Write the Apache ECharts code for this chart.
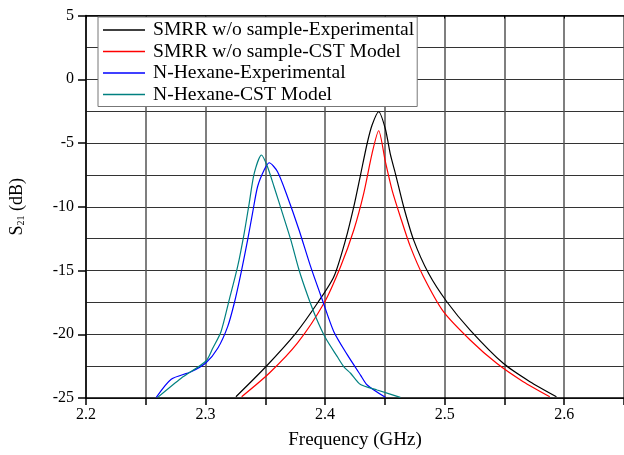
<!DOCTYPE html>
<html>
<head>
<meta charset="utf-8">
<script src="https://cdn.jsdelivr.net/npm/echarts@6/dist/echarts.min.js"></script>
<style>html,body{margin:0;padding:0;background:#fff}#c{width:624px;height:455px}</style>
</head>
<body>
<div id="c"></div>
<script>
// Series names
var seriesNames = ['SMRR w/o sample-Experimental', 'SMRR w/o sample-CST Model', 'N-Hexane-Experimental', 'N-Hexane-CST Model'];

// SMRR w/o sample - Experimental
var smrrExpFreq = [2.3254, 2.3504, 2.3754, 2.3935, 2.4073, 2.4171, 2.4240, 2.4296, 2.4352, 2.4393, 2.4448, 2.4504, 2.4546, 2.4588, 2.4657, 2.4740, 2.4865, 2.5018, 2.5213, 2.5490, 2.5713, 2.5935];
var smrrExpVal  = [-24.9, -22.55, -19.93, -17.57, -15.49, -12.6, -9.99, -7.51, -5.02, -3.59, -2.55, -3.9, -5.9, -7.4, -10.0, -12.6, -15.22, -17.45, -19.67, -22.28, -23.72, -24.9];

// SMRR w/o sample - CST Model
var smrrCstFreq = [2.3302, 2.3532, 2.3768, 2.3990, 2.4129, 2.4240, 2.4323, 2.4393, 2.4448, 2.4504, 2.4560, 2.4629, 2.4713, 2.4823, 2.4990, 2.5213, 2.5435, 2.5657, 2.5879];
var smrrCstVal  = [-24.9, -23.06, -20.7, -17.57, -14.7, -11.82, -8.95, -5.81, -4.04, -6.47, -8.69, -10.78, -13.13, -15.49, -18.23, -20.45, -22.28, -23.72, -24.9];

// N-Hexane - Experimental
var hexExpFreq = [2.2588, 2.2713, 2.2879, 2.3004, 2.3102, 2.3185, 2.3240, 2.3296, 2.3352, 2.3393, 2.3435, 2.3490, 2.3532, 2.3602, 2.3685, 2.3782, 2.3879, 2.3977, 2.4073, 2.4185, 2.4296, 2.4352, 2.4504];
var hexExpVal  = [-24.95, -23.53, -22.94, -22.23, -21.1, -19.4, -17.57, -15.22, -12.6, -10.5, -8.43, -7.12, -6.55, -7.25, -9.21, -11.82, -14.7, -17.31, -19.8, -21.6, -23.2, -23.98, -24.95];

// N-Hexane - CST Model
var hexCstFreq = [2.2600, 2.2796, 2.3004, 2.3060, 2.3129, 2.3198, 2.3268, 2.3323, 2.3365, 2.3407, 2.3468, 2.3518, 2.3573, 2.3643, 2.3713, 2.3782, 2.3852, 2.3921, 2.4004, 2.4102, 2.4157, 2.4213, 2.4296, 2.4435, 2.4629];
var hexCstVal  = [-24.95, -23.45, -22.1, -21.1, -19.8, -17.3, -14.7, -12.08, -9.73, -7.38, -5.94, -6.86, -8.43, -10.5, -12.6, -14.96, -16.92, -18.62, -20.3, -21.76, -22.55, -23.06, -23.95, -24.37, -24.95];

var seriesColors = ['#000000', '#ff0000', '#0000ff', '#008080'];

function zip(a, b) { return a.map(function (v, i) { return [v, b[i]]; }); }
var allData = [zip(smrrExpFreq, smrrExpVal), zip(smrrCstFreq, smrrCstVal), zip(hexExpFreq, hexExpVal), zip(hexCstFreq, hexCstVal)];

var FONT = 'Liberation Serif';
var chart = echarts.init(document.getElementById('c'), null, { renderer: 'canvas' });
chart.setOption({
  animation: false,
  backgroundColor: '#ffffff',
  grid: { left: 85, top: 15.5, width: 540, height: 382.5, containLabel: false },
  legend: {
    orient: 'vertical', left: 98, top: 17,
    padding: [3, 3, 2, 5], itemWidth: 42, itemHeight: 1.3, itemGap: 1.5, icon: 'rect',
    backgroundColor: '#ffffff', borderColor: '#777777', borderWidth: 1,
    textStyle: { fontFamily: FONT, fontSize: 19.6, color: '#000', padding: [0, 0, 0, 3] },
    data: seriesNames
  },
  xAxis: [{
    type: 'value', position: 'bottom', min: 2.2, max: 2.65, interval: 0.1,
    name: 'Frequency (GHz)', nameLocation: 'middle', nameGap: 33,
    nameTextStyle: { fontFamily: FONT, fontSize: 19, color: '#000' },
    axisLine: { show: true, onZero: false, lineStyle: { color: '#000', width: 1.5 } },
    axisTick: { show: true, inside: false, length: 7, lineStyle: { color: '#000', width: 1.5 } },
    minorTick: { show: true, splitNumber: 2, length: 7, lineStyle: { color: '#000', width: 1.5 } },
    axisLabel: { fontFamily: FONT, fontSize: 16, color: '#000', margin: 9, showMaxLabel: false,
      formatter: function (v) { return v.toFixed(1); } },
    splitLine: { show: true, lineStyle: { color: '#555', width: 1.5 } },
    minorSplitLine: { show: true, lineStyle: { color: '#555', width: 1.5 } }
  }, {
    type: 'value', position: 'top', min: 2.2, max: 2.65, interval: 0.1,
    axisLine: { show: true, onZero: false, lineStyle: { color: '#000', width: 1.5 } },
    axisTick: { show: true, inside: true, length: 3, lineStyle: { color: '#000' } },
    minorTick: { show: true, splitNumber: 2, length: 3, lineStyle: { color: '#000' } },
    axisLabel: { show: false }, splitLine: { show: false }
  }],
  yAxis: {
    type: 'value', min: -25, max: 5, interval: 5,
    name: 'S{sub|21} (dB)', nameLocation: 'middle', nameGap: 60,
    nameTextStyle: { fontFamily: FONT, fontSize: 18, color: '#000',
      rich: { sub: { fontFamily: FONT, fontSize: 10, verticalAlign: 'bottom', padding: [7, 0, 0, 0] } } },
    axisLine: { show: true, onZero: false, lineStyle: { color: '#000', width: 1.5 } },
    axisTick: { show: true, inside: false, length: 8, lineStyle: { color: '#000', width: 1.5 } },
    minorTick: { show: false, splitNumber: 2 },
    axisLabel: { fontFamily: FONT, fontSize: 16, color: '#000', margin: 12 },
    splitLine: { show: true, lineStyle: { color: '#333', width: 1 } },
    minorSplitLine: { show: true, lineStyle: { color: '#333', width: 1 } }
  },
  series: allData.map(function (d, i) {
    return {
      name: seriesNames[i], type: 'line', data: d, xAxisIndex: 0,
      showSymbol: false, symbol: 'none', smooth: 0.25,
      lineStyle: { color: seriesColors[i], width: 1.2 }, itemStyle: { color: seriesColors[i] },
      clip: true
    };
  })
});
</script>
</body>
</html>
